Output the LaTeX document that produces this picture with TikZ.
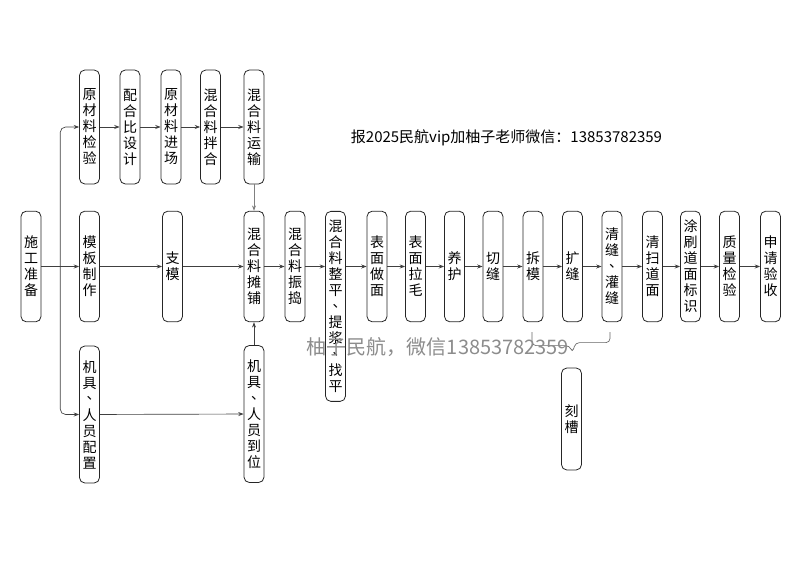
\documentclass[tikz,border=0pt]{standalone}
\usepackage{fontspec}
\setmainfont{Noto Sans CJK SC}
\usetikzlibrary{positioning, arrows.meta, calc}

\newcommand\dunhao{\hbox to 1em{\hskip0.3em\raisebox{0.3em}{、}\hss}}

\tikzset{
	stepbox/.style={draw=black!85, line width=0.6pt, rounded corners=4pt,
		minimum width=15pt, minimum height=83pt, inner sep=2pt, align=center,
		font=\fontsize{10.5}{12}\selectfont},
	topbox/.style={stepbox, minimum height=85.5pt},
	lowbox/.style={stepbox, minimum height=102.75pt},
	flow/.style={draw=black!75, line width=0.5pt, -{Stealth[length=4pt, width=3pt]}},
	brace/.style={draw=black!60, line width=0.5pt, rounded corners=3pt}
}

\begin{document}
\begin{tikzpicture}[x=0.75pt, y=-0.75pt]
	\useasboundingbox (0,0) rectangle (800,566);
	% upper row
	\node[topbox] (yljy) at (89.5,127) {原\\材\\料\\检\\验};
	\node[topbox] (phb) at (130,127) {配\\合\\比\\设\\计};
	\node[topbox] (ycl) at (171,127) {原\\材\\料\\进\\场};
	\node[topbox] (bh) at (210.5,127) {混\\合\\料\\拌\\合};
	\node[topbox] (ys) at (254,127) {混\\合\\料\\运\\输};
	% main row
	\node[stepbox] (sgzb) at (31,266.5) {施\\工\\准\\备};
	\node[stepbox] (mbzz) at (89.5,266.5) {模\\板\\制\\作};
	\node[stepbox] (zhm) at (172.5,266.5) {支\\模};
	\node[stepbox] (tp) at (254,266.5) {混\\合\\料\\摊\\铺};
	\node[stepbox] (zd) at (295,266.5) {混\\合\\料\\振\\捣};
	\node[stepbox, anchor=north, minimum height=142.5pt, inner sep=1pt] (zp) at (335.5,211)
		{混\\合\\料\\整\\平\\\dunhao\\提\\浆\\\dunhao\\找\\平};
	\node[stepbox] (zm) at (377,266.5) {表\\面\\做\\面};
	\node[stepbox] (lm) at (415.5,266.5) {表\\面\\拉\\毛};
	\node[stepbox] (yh) at (454.5,266.5) {养\\护};
	\node[stepbox] (qf) at (493,266.5) {切\\缝};
	\node[stepbox] (cm) at (533,266.5) {拆\\模};
	\node[stepbox] (kf) at (572.5,266.5) {扩\\缝};
	\node[stepbox] (gf) at (612,266.5) {清\\缝\\\dunhao\\灌\\缝};
	\node[stepbox] (qs) at (652.5,266.5) {清\\扫\\道\\面};
	\node[stepbox] (bs) at (690.5,266.5) {涂\\刷\\道\\面\\标\\识};
	\node[stepbox] (zl) at (729.5,266.5) {质\\量\\检\\验};
	\node[stepbox] (ysh) at (770.5,266.5) {申\\请\\验\\收};
	% lower row
	\node[lowbox] (jjpz) at (89.5,414.5) {机\\具\\\dunhao\\人\\员\\配\\置};
	\node[lowbox] (jjdw) at (254,414) {机\\具\\\dunhao\\人\\员\\到\\位};
	\node[stepbox, minimum height=76.5pt] (kc) at (571.5,419) {刻\\槽};

	\coordinate (fz) at ($(sgzb.east)!0.5!(mbzz.west)$);
	\draw[flow] (sgzb) -- (mbzz);
	\draw[flow, rounded corners=4pt] (fz) |- (yljy);
	\draw[flow, rounded corners=4pt] (fz) |- (jjpz);
	\draw[flow] (yljy) -- (phb);
	\draw[flow] (phb) -- (ycl);
	\draw[flow] (ycl) -- (bh);
	\draw[flow] (bh) -- (ys);
	\draw[flow, draw=black!50] (ys) -- (tp);
	\draw[flow] (mbzz) -- (zhm);
	\draw[flow] (zhm) -- (tp);
	\draw[flow] (jjpz) -- (jjdw);
	\draw[flow] (jjdw) -- (tp);
	\draw[flow] (tp) -- (zd);
	\draw[flow] (zd) -- (zd -| zp.west);
	\draw[flow] (zp.east |- zm) -- (zm);
	\draw[flow] (zm) -- (lm);
	\draw[flow] (lm) -- (yh);
	\draw[flow] (yh) -- (qf);
	\draw[flow] (qf) -- (cm);
	\draw[flow] (cm) -- (kf);
	\draw[flow] (kf) -- (gf);
	\draw[flow] (gf) -- (qs);
	\draw[flow] (qs) -- (bs);
	\draw[flow] (bs) -- (zl);
	\draw[flow] (zl) -- (ysh);
	% brace over cm .. gf
	\draw[brace] ($(cm.south)+(-1,10)$) |- ($(kc.north)+(-2,-22)$)
		-- ($(kc.north)+(1,-15)$) -- ($(kc.north)+(4,-25)$) -| ($(gf.south)+(-2,10)$);

	\node[font=\fontsize{11.25}{13}\selectfont] (bm) at (506.5,138)
		{报2025民航vip加柚子老师微信：13853782359};
	\node[text=black!45, font=\fontsize{15}{18}\selectfont] (sy) at (438,347)
		{柚子民航，微信13853782359};
\end{tikzpicture}
\end{document}
